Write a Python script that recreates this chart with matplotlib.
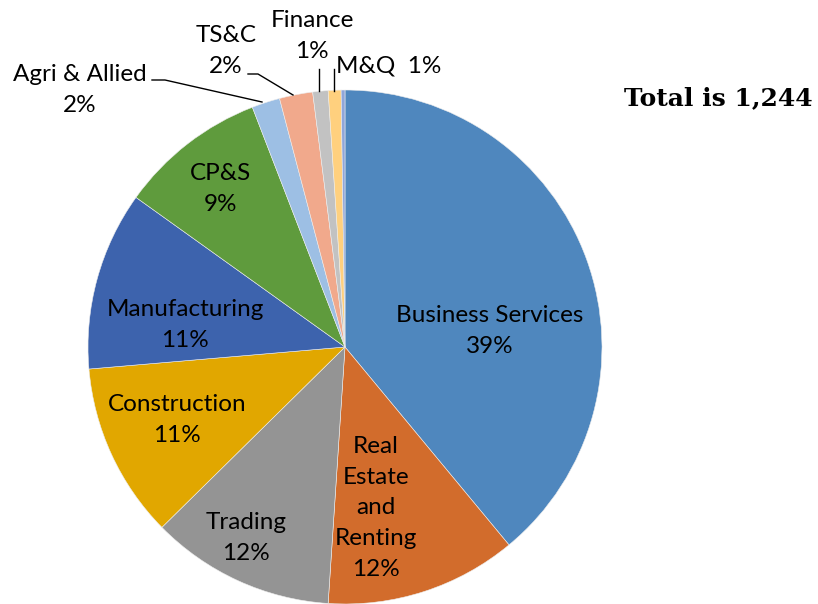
import matplotlib
matplotlib.use("Agg")
import matplotlib.pyplot as plt

categories = ["Business Services", "Real\nEstate\nand\nRenting", "Trading", "Construction",
              "Manufacturing", "CP&S", "Agri & Allied", "TS&C", "Finance", "M&Q", ""]
values = [485, 150, 144, 137, 140, 115, 22, 26, 12, 10, 3]
colors = ["#4F87BE", "#D26C2C", "#949494", "#E1A700", "#3D63AD", "#5F9B3D",
          "#9DBFE4", "#F1A98C", "#C2C2C2", "#FFD07E", "#8FA6DA"]
total_text = "Total is 1,244"

W, H = 818, 604
CX, CY, R = 345, 347, 257


def p(px, py):
    return ((px - CX) / R, (CY - py) / R)


fig = plt.figure(figsize=(W / 100, H / 100), dpi=100)
ax = fig.add_axes([0, 0, 1, 1])

ax.pie(values, colors=colors, startangle=90, counterclock=False, radius=1,
       center=(0, 0), frame=True,
       wedgeprops=dict(edgecolor="#EDEDED", linewidth=0.4))
ax.set_xlim(-CX / R, (W - CX) / R)
ax.set_ylim((CY - H) / R, CY / R)
ax.axis("off")

tot = sum(values)
pct = [f"{round(v / tot * 100)}%" for v in values]

# label centres (pixel layout)
label_pos = [(490, 331), (376, 508), (246, 538), (177, 420), (185, 325),
             (220, 189), (80, 90), (226, 51), (312, 36)]
font = dict(family=["Lato", "DejaVu Sans"], fontsize=17.5, color="black",
            ha="center", va="center", linespacing=1.58)
for i, (px, py) in enumerate(label_pos):
    x, y = p(px, py)
    ax.text(x, y, f"{categories[i]}\n{pct[i]}", **font)

x, y = p(389, 66)
ax.text(x, y, f"{categories[9]}  {pct[9]}", **font)

# leader lines
leaders = [
    [(152, 80), (165, 80), (262, 102)],
    [(248, 74), (258, 74), (293, 95)],
    [(319, 69), (319, 91)],
    [(334, 69), (334, 91)],
]
for pts in leaders:
    xs, ys = zip(*[p(a, b) for a, b in pts])
    ax.plot(xs, ys, color="black", lw=1.0)

x, y = p(718, 98)
ax.text(x, y, total_text, family="DejaVu Serif", fontweight="bold", fontsize=18,
        ha="center", va="center")

fig.savefig("out.png", dpi=100)
